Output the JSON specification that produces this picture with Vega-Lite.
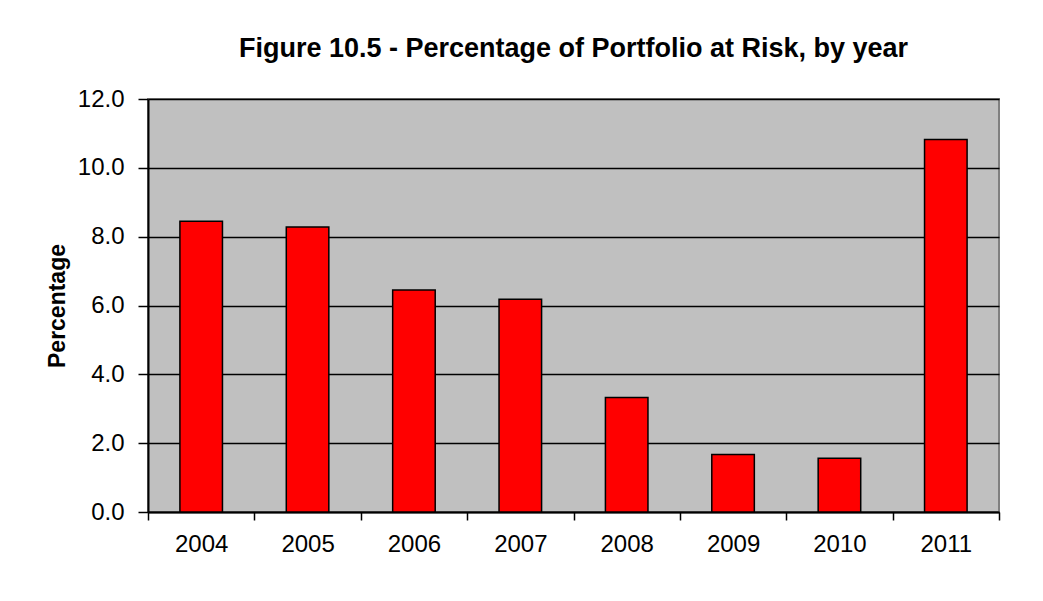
{
  "$schema": "https://vega.github.io/schema/vega-lite/v6.json",
  "autosize": {"type": "none"},
  "padding": {"left": 148, "top": 99, "right": 44, "bottom": 89},
  "width": 851,
  "height": 413,
  "background": "white",
  "title": {
    "text": "Figure 10.5 - Percentage of Portfolio at Risk, by year",
    "font": "Liberation Sans",
    "fontSize": 27,
    "fontWeight": "bold",
    "color": "black",
    "anchor": "middle",
    "baseline": "alphabetic",
    "offset": 3
  },
  "data": {
    "values": [
      {"year": "2004", "pct": 8.45},
      {"year": "2005", "pct": 8.28},
      {"year": "2006", "pct": 6.45},
      {"year": "2007", "pct": 6.18},
      {"year": "2008", "pct": 3.33},
      {"year": "2009", "pct": 1.67},
      {"year": "2010", "pct": 1.56},
      {"year": "2011", "pct": 10.82}
    ]
  },
  "mark": {"type": "bar", "fill": "#FF0000", "stroke": "black", "strokeWidth": 1.5, "width": {"band": 0.4}},
  "encoding": {
    "x": {
      "field": "year",
      "type": "ordinal",
      "scale": {"paddingInner": 0, "paddingOuter": 0},
      "axis": {
        "title": null,
        "labelAngle": 0,
        "labelFont": "Liberation Sans",
        "labelFontSize": 24,
        "labelColor": "black",
        "labelPadding": 12,
        "tickBand": "extent",
        "tickSize": 8,
        "tickColor": "black",
        "tickWidth": 1.5,
        "domainColor": "black",
        "domainWidth": 2,
        "grid": false
      }
    },
    "y": {
      "field": "pct",
      "type": "quantitative",
      "scale": {"domain": [0, 12], "nice": false},
      "axis": {
        "title": "Percentage",
        "titleFont": "Liberation Sans",
        "titleFontSize": 23,
        "titleFontWeight": "bold",
        "titleColor": "black",
        "titlePadding": 8,
        "values": [0, 2, 4, 6, 8, 10, 12],
        "format": ".1f",
        "labelFont": "Liberation Sans",
        "labelFontSize": 24,
        "labelColor": "black",
        "labelPadding": 14,
        "tickSize": 10,
        "tickColor": "black",
        "tickWidth": 1.5,
        "domainColor": "black",
        "domainWidth": 2,
        "grid": true,
        "gridColor": "black",
        "gridWidth": 1.5,
        "gridOpacity": 1
      }
    }
  },
  "config": {
    "view": {"fill": "#C0C0C0", "stroke": "#808080", "strokeWidth": 2}
  }
}
